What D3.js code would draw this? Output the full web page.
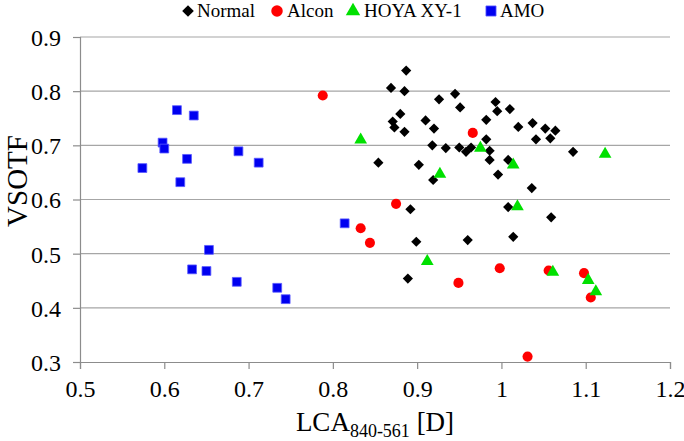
<!DOCTYPE html>
<html>
<head>
<meta charset="utf-8">
<script src="https://cdn.jsdelivr.net/npm/d3@7"></script>
<style>
  html, body { margin: 0; padding: 0; background: #fff; }
  svg { display: block; }
  svg text { font-family: 'Liberation Serif', 'Times New Roman', serif !important; fill: #000; }
</style>
</head>
<body>
<svg id="chart" width="684" height="441"></svg>
<script>
// ---- data ----
const seriesNames = ["Normal", "Alcon", "HOYA XY-1", "AMO"];
const normalX = [0.887,0.869,0.885,0.880,0.871,0.873,0.885,0.854,0.902,0.926,0.945,0.951,0.993,0.995,1.010,0.910,0.920,0.982,1.020,0.982,0.918,0.934,0.950,0.958,0.964,0.986,0.986,0.919,1.008,0.996,1.036,1.037,1.052,1.064,1.041,1.058,1.085,1.059,0.892,1.008,0.899,0.960,1.014,0.889];
const normalY = [0.838,0.806,0.800,0.758,0.744,0.733,0.725,0.668,0.664,0.785,0.795,0.770,0.780,0.763,0.767,0.746,0.731,0.747,0.734,0.711,0.700,0.695,0.696,0.688,0.696,0.690,0.673,0.636,0.673,0.646,0.621,0.741,0.731,0.727,0.711,0.713,0.688,0.567,0.582,0.586,0.522,0.525,0.531,0.454];
const alconX = [0.788,0.966,0.875,0.833,0.844,0.998,1.056,0.949,1.031,1.098,1.106];
const alconY = [0.792,0.723,0.592,0.547,0.520,0.473,0.469,0.446,0.310,0.464,0.419];
const hoyaX = [0.833,0.975,0.927,1.014,1.019,0.912,1.061,1.123,1.103,1.112];
const hoyaY = [0.710,0.695,0.647,0.664,0.587,0.486,0.466,0.684,0.451,0.430];
const amoX = [0.615,0.635,0.598,0.600,0.627,0.688,0.712,0.574,0.619,0.653,0.633,0.650,0.686,0.734,0.744,0.814];
const amoY = [0.765,0.755,0.705,0.694,0.675,0.689,0.668,0.658,0.632,0.507,0.471,0.468,0.448,0.437,0.416,0.556];
const xTicks = [0.5,0.6,0.7,0.8,0.9,1.0,1.1,1.2];
const yTicks = [0.3,0.4,0.5,0.6,0.7,0.8,0.9];

// ---- layout ----
const FONT = "'Liberation Serif', 'Times New Roman', serif";
const svg = d3.select("#chart");
const L = 80, R = 670, T = 37, B = 362;
const x = d3.scaleLinear().domain([0.5, 1.2]).range([L, R]);
const y = d3.scaleLinear().domain([0.3, 0.9]).range([B, T]);

// gridlines
svg.append("g").selectAll("line").data(yTicks.filter(d => d > 0.3)).join("line")
  .attr("x1", L).attr("x2", R).attr("y1", d => y(d)).attr("y2", d => y(d))
  .attr("stroke", "#a6a6a6").attr("stroke-width", 1.2);

// axes
const fmt = d => d === 1 ? "1" : d3.format(".1f")(d);
const gx = svg.append("g").attr("transform", `translate(0,${B})`)
  .call(d3.axisBottom(x).tickValues(xTicks).tickFormat(fmt).tickSize(7).tickPadding(6));
const gy = svg.append("g").attr("transform", `translate(${L},0)`)
  .call(d3.axisLeft(y).tickValues(yTicks).tickFormat(d3.format(".1f")).tickSize(7).tickPadding(12));
[gx, gy].forEach(g => {
  g.attr("font-family", null);
  g.selectAll("path.domain").attr("stroke", "#8c8c8c").attr("stroke-width", 1.2);
  g.selectAll(".tick line").attr("stroke", "#8c8c8c").attr("stroke-width", 1.2);
  g.selectAll("text").style("font-family", FONT).style("font-size", "24px").attr("fill", "#000");
});
gy.selectAll("text").attr("dy", "0.35em");
gx.selectAll("text").attr("dy", "0.9em");

// axis titles
const xt = svg.append("text").attr("x", 375).attr("y", 431).attr("text-anchor", "middle")
  .style("font-family", FONT).style("font-size", "27px");
xt.append("tspan").text("LCA");
xt.append("tspan").style("font-size", "18px").attr("dy", 6).text("840-561");
xt.append("tspan").attr("dy", -6).text(" [D]");

svg.append("text").attr("transform", "translate(27,181) rotate(-90)")
  .attr("text-anchor", "middle").style("font-family", FONT).style("font-size", "29px").text("VSOTF");

// series
const styles = [
  { name: seriesNames[0], xs: normalX, ys: normalY, sym: d3.symbolSquare, size: 52, rot: 45, fill: "#000", stroke: "none" },
  { name: seriesNames[1], xs: alconX, ys: alconY, sym: d3.symbolCircle, size: 80, rot: 0, fill: "#ff0000", stroke: "none" },
  { name: seriesNames[2], xs: hoyaX, ys: hoyaY, sym: d3.symbolTriangle, size: 70, rot: 0, fill: "#00e000", stroke: "none" },
  { name: seriesNames[3], xs: amoX, ys: amoY, sym: d3.symbolSquare, size: 78, rot: 0, fill: "#0000f0", stroke: "#5a5aff" }
];

styles.forEach(s => {
  const pts = s.xs.map((v, i) => [v, s.ys[i]]);
  svg.append("g").selectAll("path").data(pts).join("path")
    .attr("d", d3.symbol().type(s.sym).size(s.size))
    .attr("transform", d => `translate(${x(d[0])},${y(d[1])}) rotate(${s.rot})`)
    .attr("fill", s.fill).attr("stroke", s.stroke).attr("stroke-width", 0.8);
});

// legend
const legendPos = [[188, 197], [277, 287], [353, 364], [491, 500]];
const lg = svg.append("g");
styles.forEach((s, i) => {
  lg.append("path").attr("d", d3.symbol().type(s.sym).size(s.size * 1.3))
    .attr("transform", `translate(${legendPos[i][0]},11) rotate(${s.rot})`)
    .attr("fill", s.fill).attr("stroke", s.stroke).attr("stroke-width", 0.8);
  lg.append("text").attr("x", legendPos[i][1]).attr("y", 17)
    .style("font-family", FONT).style("font-size", "19px").text(s.name);
});
</script>
</body>
</html>
